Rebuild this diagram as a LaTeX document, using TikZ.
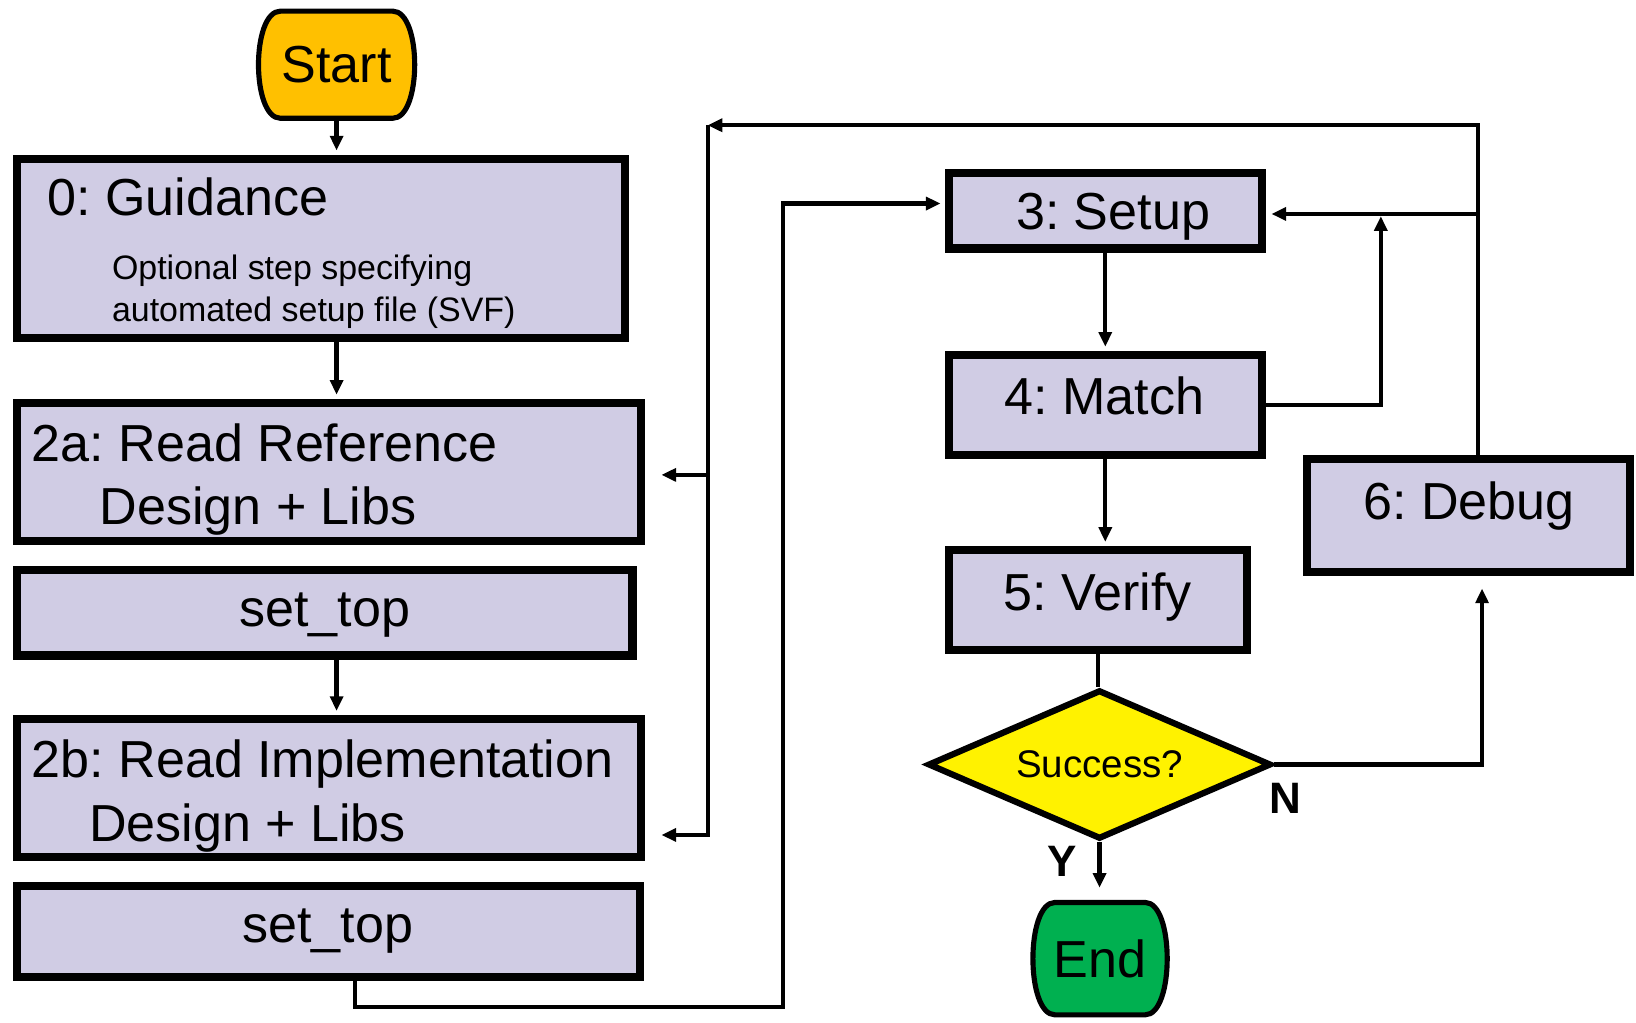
\documentclass[tikz,border=0pt]{standalone}
\usepackage{fontspec}
\setmainfont{Liberation Sans}
\frenchspacing
\usetikzlibrary{arrows.meta}
\usetikzlibrary{positioning}
\usetikzlibrary{shapes.geometric}

\definecolor{boxfill}{RGB}{208,204,228}
\definecolor{startfill}{RGB}{255,192,0}
\definecolor{endfill}{RGB}{0,176,80}

\tikzset{
  stepbox/.style={draw, line width=4.5pt, fill=boxfill, inner sep=0pt},
  termbox/.style={rectangle, inner sep=0pt},
  termline/.style={line width=2.8pt},
  decision/.style={draw, diamond, aspect=2.3, line width=3.4pt, fill=yellow, inner sep=0pt,
    font=\fontsize{21}{25}\selectfont},
  big/.style={inner sep=0pt, font=\fontsize{28.4}{34}\selectfont},
  small/.style={inner sep=0pt, font=\fontsize{18.5}{22}\selectfont},
  yesno/.style={inner sep=0pt, font=\bfseries\fontsize{24}{28}\selectfont},
  flow/.style={line width=2.3pt, -{Triangle[length=8pt,width=7pt]}, shorten >=2.2pt},
  link/.style={line width=2.3pt},
}

\begin{document}
\begin{tikzpicture}[x=0.02cm, y=-0.02cm]
\useasboundingbox (0,0) rectangle (1567.5,980);

% left column
\node[termbox, minimum width=2.98cm, minimum height=2.04cm] (start) at (322.5,62) {};
\draw[termline, fill=startfill] ([xshift=12pt]start.north west) -- ([xshift=-12pt]start.north east)
  .. controls ([xshift=4pt]start.north east) and ([xshift=4pt]start.south east) .. ([xshift=-12pt]start.south east)
  -- ([xshift=12pt]start.south west)
  .. controls ([xshift=-4pt]start.south west) and ([xshift=-4pt]start.north west) .. cycle;
\node[big] (start-t) at (start) {Start};
\node[stepbox, minimum width=11.66cm, minimum height=3.44cm] (guide) at (307.5,238) {};
\node[stepbox, minimum width=11.96cm, minimum height=2.64cm] (readref) at (315,452) {};
\node[stepbox, minimum width=11.8cm, minimum height=1.64cm] (topref) at (311,587) {};
\node[stepbox, minimum width=11.96cm, minimum height=2.64cm] (readimp) at (315,755) {};
\node[stepbox, minimum width=11.94cm, minimum height=1.74cm] (topimp) at (314.5,892.5) {};

\node[big, anchor=base west] (guide-t) at (45,206) {0: Guidance};
\node[small, anchor=base west] (guide-l1) at (107,268) {Optional step specifying};
\node[small, anchor=base west] (guide-l2) at (107,308) {automated setup file (SVF)};
\node[big, anchor=base west] (readref-t) at (30,442) {2a: Read Reference};
\node[big, anchor=base west] (readref-l) at (95,503) {Design + Libs};
\node[big, anchor=base] (topref-t) at (311,600) {set\_top};
\node[big, anchor=base west] (readimp-t) at (30,745) {2b: Read Implementation};
\node[big, anchor=base west] (readimp-l) at (85,806) {Design + Libs};
\node[big, anchor=base] (topimp-t) at (314,903) {set\_top};

% right column
\node[stepbox, minimum width=6cm, minimum height=1.44cm] (setup) at (1059,202) {};
\node[stepbox, minimum width=6cm, minimum height=1.92cm] (match) at (1059,388) {};
\node[stepbox, minimum width=5.72cm, minimum height=1.92cm] (verify) at (1052,575) {};
\node[stepbox, minimum width=6.2cm, minimum height=2.16cm] (debug) at (1407,494) {};
\node[decision, minimum width=6.58cm, minimum height=2.86cm] (success) at (1053.5,732.5) {Success?};
\node[termbox, minimum width=2.56cm, minimum height=2.14cm] (stop) at (1054,918.5) {};
\draw[termline, fill=endfill] ([xshift=12pt]stop.north west) -- ([xshift=-12pt]stop.north east)
  .. controls ([xshift=4pt]stop.north east) and ([xshift=4pt]stop.south east) .. ([xshift=-12pt]stop.south east)
  -- ([xshift=12pt]stop.south west)
  .. controls ([xshift=-4pt]stop.south west) and ([xshift=-4pt]stop.north west) .. cycle;
\node[big] (stop-t) at (stop) {End};

\node[big, anchor=base] (setup-t) at (1066.5,220) {3: Setup};
\node[big, anchor=base] (match-t) at (1058,397) {4: Match};
\node[big, anchor=base] (verify-t) at (1051.5,585) {5: Verify};
\node[big, anchor=base] (debug-t) at (1407.5,498) {6: Debug};
\node[yesno] (yes) at (1018,825) {Y};
\node[yesno] (no) at (1232,765) {N};

% corner points
\coordinate (loopR) at (1416,120);
\coordinate (loopL) at (678,120);
\coordinate (busM) at (678,455);
\coordinate (busL) at (678,800);
\coordinate (join) at (1416,205);
\coordinate (retry) at (1323,205);
\coordinate (botL) at (750,965);

% connectors
\draw[flow] (start.south) -- (start.south |- guide.north);
\draw[flow] (start.south |- guide.south) -- (start.south |- readref.north);
\draw[flow] (start.south |- topref.south) -- (start.south |- readimp.north);
\draw[flow] ([xshift=0.51cm]topimp.south) |- (botL) |- ([yshift=0.14cm]setup.west);
\draw[flow] (setup.south) -- (match.north);
\draw[flow] (match.south) -- (match.south |- verify.north);
\draw[flow, shorten >=1.2pt] (match.east) -| (retry);
\draw[flow, shorten >=0pt] (debug.north -| loopR) -- (loopR) -- (loopL);
\draw[flow, shorten >=9pt] (loopL) -- (busL) -- (readimp.east |- busL);
\draw[flow, shorten >=9pt] (busM) -- (readref.east |- busM);
\draw[flow, shorten >=3pt] (join) -- (setup.east |- join);
\draw[link] (verify.south) -- (verify.south |- success.north);
\draw[flow, shorten >=8pt] (success.south) -- (success.south |- stop.north);
\draw[flow, shorten >=6.8pt] (success.east) -| ([xshift=0.26cm]debug.south);
\end{tikzpicture}
\end{document}
